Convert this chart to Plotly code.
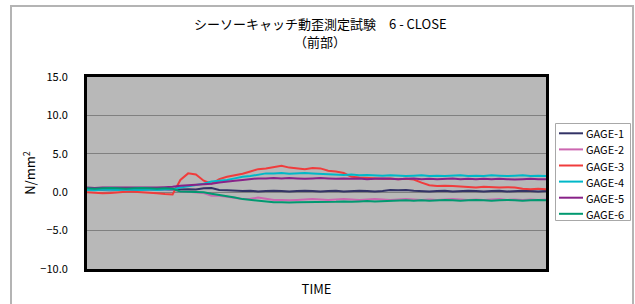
import plotly.graph_objects as go

time_idx = list(range(60))

gage1 = [0.3, 0.35, 0.3, 0.25, 0.3, 0.35, 0.3, 0.3, 0.25, 0.3, 0.3, 0.3,
         0.35, 0.4, 0.35, 0.5, 0.55, 0.3, 0.25, 0.2, 0.15, 0.2, 0.1, 0.15,
         0.2, 0.15, 0.1, 0.15, 0.2, 0.15, 0.1, 0.15, 0.2, 0.1, 0.15, 0.2,
         0.15, 0.1, 0.15, 0.3, 0.25, 0.3, 0.2, 0.15, 0.1, 0.15, 0.2, 0.1,
         0.15, 0.2, 0.15, 0.1, 0.15, 0.2, 0.1, 0.15, 0.2, 0.15, 0.1, 0.15]
gage2 = [0.3, 0.4, 0.35, 0.3, 0.35, 0.3, 0.4, 0.35, 0.3, 0.35, 0.3, 0.35,
         0.1, 0.05, 0.0, -0.1, -0.45, -0.45, -0.6, -0.75, -0.9, -0.85, -0.7, -0.85,
         -1.0, -1.0, -1.05, -1.0, -0.95, -0.9, -0.95, -1.0, -0.95, -0.9, -0.95, -1.0,
         -0.95, -0.9, -0.95, -1.0, -0.95, -0.9, -0.95, -1.0, -0.95, -1.0, -0.95, -0.9,
         -0.95, -1.0, -0.95, -1.0, -0.95, -0.9, -1.0, -0.95, -1.0, -0.95, -1.0, -0.95]
gage3 = [0.0, -0.1, -0.15, -0.1, 0.0, 0.05, 0.05, 0.0, -0.05, -0.15, -0.25, -0.3,
         1.6, 2.45, 2.3, 1.5, 1.1, 1.7, 2.0, 2.2, 2.4, 2.7, 3.0, 3.1,
         3.3, 3.45, 3.2, 3.1, 3.0, 3.15, 3.1, 2.8, 2.7, 2.5, 2.0, 1.9,
         1.85, 1.8, 1.75, 1.8, 1.7, 1.75, 1.65, 1.25, 0.9, 0.8, 0.85, 0.8,
         0.7, 0.65, 0.6, 0.7, 0.65, 0.6, 0.65, 0.6, 0.45, 0.4, 0.45, 0.4]
gage4 = [0.3, 0.25, 0.35, 0.3, 0.3, 0.35, 0.3, 0.3, 0.35, 0.3, 0.35, 0.4,
         0.6, 0.8, 1.0, 1.1, 1.4, 1.5, 1.6, 1.8, 2.0, 2.1, 2.3, 2.45,
         2.45, 2.5, 2.4, 2.45, 2.5, 2.45, 2.4, 2.35, 2.3, 2.25, 2.3, 2.2,
         2.25, 2.2, 2.15, 2.2, 2.15, 2.1, 2.15, 2.2, 2.1, 2.15, 2.1, 2.15,
         2.2, 2.1, 2.15, 2.1, 2.2, 2.15, 2.1, 2.15, 2.2, 2.1, 2.15, 2.1]
gage5 = [0.6, 0.55, 0.6, 0.6, 0.55, 0.6, 0.6, 0.55, 0.6, 0.6, 0.65, 0.7,
         0.85, 0.9, 0.95, 1.0, 1.1, 1.25, 1.4, 1.5, 1.6, 1.7, 1.8, 1.8,
         1.85, 1.8, 1.85, 1.8, 1.75, 1.8, 1.85, 1.8, 1.75, 1.8, 1.75, 1.8,
         1.7, 1.75, 1.8, 1.75, 1.7, 1.75, 1.8, 1.7, 1.75, 1.7, 1.75, 1.8,
         1.7, 1.75, 1.7, 1.75, 1.7, 1.75, 1.7, 1.65, 1.7, 1.75, 1.7, 1.7]
gage6 = [0.5, 0.45, 0.5, 0.55, 0.5, 0.45, 0.5, 0.55, 0.5, 0.45, 0.5, 0.45,
         0.1, 0.05, 0.05, 0.0, -0.2, -0.35, -0.5, -0.7, -0.9, -1.0, -1.1, -1.2,
         -1.3, -1.3, -1.35, -1.3, -1.3, -1.25, -1.25, -1.3, -1.25, -1.2, -1.25, -1.2,
         -1.15, -1.2, -1.15, -1.1, -1.1, -1.05, -1.1, -1.05, -1.1, -1.05, -1.0, -1.05,
         -1.1, -1.05, -1.0, -1.05, -1.1, -1.05, -1.0, -1.05, -1.1, -1.05, -1.0, -1.05]

names = ["GAGE-1", "GAGE-2", "GAGE-3", "GAGE-4", "GAGE-5", "GAGE-6"]
series = [gage1, gage2, gage3, gage4, gage5, gage6]
colors = ["#333366", "#cc66b0", "#f03c3c", "#00b8c8", "#882288", "#009970"]

y_ticks = [-10, -5, 0, 5, 10, 15]
title_line1 = "シーソーキャッチ動歪測定試験　6 - CLOSE"
title_line2 = "（前部）"

font_family = "Noto Sans CJK JP, Noto Sans, sans-serif"

fig = go.Figure()
for name, vals, col in zip(names, series, colors):
    fig.add_trace(go.Scatter(x=time_idx, y=vals, mode="lines", name=name,
                             line=dict(color=col, width=2), showlegend=False))

L, R, T, B = 87, 89, 77, 35
W, H = 635, 304
pw, ph = W - L - R, H - T - B

def px_x(p):
    return (p - L) / pw

def px_y(p):
    return (H - B - p) / ph

# custom legend (box, sample lines, labels) in pixel-derived paper coords
shapes = [dict(type="rect", xref="paper", yref="paper",
               x0=px_x(11), x1=px_x(633), y0=px_y(320), y1=px_y(6),
               line=dict(color="#b4b4b4", width=2), layer="below"),
          dict(type="rect", xref="paper", yref="paper",
               x0=px_x(555.5), x1=px_x(630.5), y0=px_y(220.5), y1=px_y(123.5),
               line=dict(color="#a8a8a8", width=1), fillcolor="white")]
annotations = [
    dict(text=title_line1, xref="paper", yref="paper", x=0.5,
         xanchor="center", y=px_y(23), yanchor="middle", showarrow=False,
         xshift=(320 - (L + pw / 2)),
         font=dict(size=13, family=font_family)),
    dict(text=title_line2, xref="paper", yref="paper", x=0.5,
         xanchor="center", y=px_y(42), yanchor="middle", showarrow=False,
         xshift=(320 - (L + pw / 2)),
         font=dict(size=13, family=font_family)),
]
for i, (name, col) in enumerate(zip(names, colors)):
    yc = 133.3 + i * 16.1
    shapes.append(dict(type="line", xref="paper", yref="paper",
                       x0=px_x(559), x1=px_x(583), y0=px_y(yc), y1=px_y(yc),
                       line=dict(color=col, width=2)))
    annotations.append(dict(text=name, xref="paper", yref="paper",
                            x=px_x(584), xanchor="left", y=px_y(yc),
                            yanchor="middle", showarrow=False,
                            font=dict(size=11, family=font_family)))

fig.update_layout(
    width=W, height=H,
    margin=dict(l=L, r=R, t=T, b=B, autoexpand=False),
    paper_bgcolor="white",
    plot_bgcolor="#b8b8b8",
    font=dict(family=font_family, size=11, color="black"),
    showlegend=False,
    xaxis=dict(range=[0, 59], showticklabels=False, ticks="", showgrid=False,
               zeroline=False, showline=True, linecolor="black", linewidth=3,
               mirror=True,
               title=dict(text="TIME", font=dict(size=13, family=font_family),
                          standoff=14)),
    yaxis=dict(range=[-10, 15], tickvals=y_ticks, tickformat=".1f",
               showgrid=True, gridcolor="#808080", gridwidth=1,
               zeroline=False, showline=True, linecolor="black", linewidth=3,
               mirror=True, ticks="", ticklen=0, ticklabelstandoff=14,
               tickfont=dict(size=11, family=font_family),
               title=dict(text="N/mm<sup>2</sup>",
                          font=dict(size=13, family=font_family),
                          standoff=2)),
    annotations=annotations,
    shapes=shapes,
)

fig.write_html("out.html",
               config={"displayModeBar": False},
               post_script="document.body.style.margin='0px';"
                           "document.body.style.overflow='hidden';")
